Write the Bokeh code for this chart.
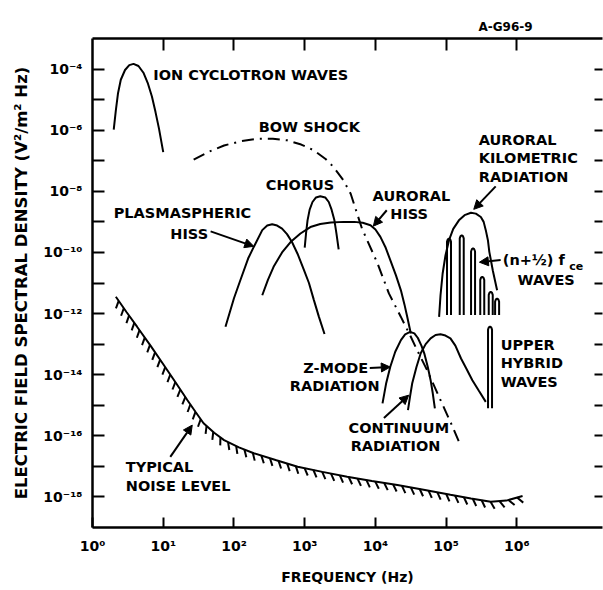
import numpy as np
from bokeh.plotting import figure
from bokeh.models import Range1d, LogAxis, FixedTicker, Arrow, NormalHead
from bokeh.core.properties import value
from bokeh.embed import file_html
from bokeh.resources import INLINE

# ---- values: log10(frequency / Hz), log10(density / V^2 m^-2 Hz^-1)
ion_logf = [0.30, 0.33, 0.36, 0.40, 0.46, 0.52, 0.58, 0.65, 0.72, 0.78, 0.84, 0.89, 0.94, 1.00]
ion_loge = [-5.98, -5.35, -4.80, -4.35, -4.03, -3.87, -3.83, -3.90, -4.12, -4.45, -4.90, -5.40, -5.95, -6.72]

bow_logf = [1.43, 1.65, 1.86, 2.10, 2.33, 2.55, 2.75, 2.95, 3.13, 3.30, 3.41, 3.55, 3.65, 3.81,
            4.03, 4.19, 4.36, 4.50, 4.59, 4.73, 4.92, 5.09, 5.20]
bow_loge = [-6.96, -6.70, -6.50, -6.36, -6.28, -6.28, -6.33, -6.47, -6.66, -6.95, -7.21, -7.65, -8.08, -9.22,
            -10.36, -11.34, -12.11, -12.76, -13.20, -13.85, -14.83, -15.70, -16.30]

phiss_logf = [1.88, 2.00, 2.09, 2.20, 2.28, 2.40, 2.47, 2.54, 2.61, 2.68, 2.75, 2.82, 2.90, 2.99, 3.06, 3.13, 3.20, 3.28]
phiss_loge = [-12.43, -11.50, -10.91, -10.20, -9.82, -9.27, -9.12, -9.08, -9.12, -9.22, -9.40, -9.66, -10.05, -10.58,
              -11.00, -11.56, -12.10, -12.67]

ahiss_logf = [2.40, 2.48, 2.56, 2.68, 2.80, 2.94, 3.08, 3.22, 3.37, 3.55, 3.70, 3.82, 3.93, 4.00, 4.07, 4.14,
              4.21, 4.29, 4.36, 4.41, 4.45, 4.50]
ahiss_loge = [-11.40, -10.90, -10.47, -10.00, -9.66, -9.38, -9.17, -9.07, -9.02, -9.00, -9.00, -9.03, -9.11, -9.25,
              -9.49, -9.82, -10.25, -10.75, -11.24, -11.70, -12.11, -12.65]

chorus_logf = [3.00, 3.02, 3.04, 3.07, 3.11, 3.16, 3.22, 3.29, 3.34, 3.38, 3.42, 3.45, 3.48]
chorus_loge = [-9.84, -9.35, -8.95, -8.60, -8.35, -8.20, -8.16, -8.20, -8.35, -8.60, -8.95, -9.40, -9.90]

zmode_logf = [4.10, 4.15, 4.21, 4.28, 4.36, 4.42, 4.49, 4.55, 4.60, 4.65, 4.69, 4.74, 4.78, 4.81, 4.84]
zmode_loge = [-14.94, -14.30, -13.74, -13.25, -12.87, -12.68, -12.60, -12.65, -12.80, -13.05, -13.30, -13.75,
              -14.18, -14.60, -15.10]

cont_logf = [4.46, 4.49, 4.52, 4.58, 4.64, 4.71, 4.78, 4.85, 4.92, 4.99, 5.06, 5.13, 5.21, 5.29, 5.37, 5.46, 5.56]
cont_loge = [-15.16, -14.70, -14.28, -13.75, -13.30, -13.00, -12.81, -12.70, -12.68, -12.72, -12.81, -13.05,
             -13.47, -13.82, -14.18, -14.52, -14.89]

akr_logf = [4.90, 4.92, 4.95, 4.99, 5.04, 5.10, 5.18, 5.26, 5.35, 5.42, 5.49, 5.53, 5.56, 5.59, 5.61, 5.66, 5.72]
akr_loge = [-12.11, -11.40, -10.69, -10.10, -9.60, -9.23, -8.95, -8.78, -8.70, -8.73, -8.84, -9.00, -9.27,
            -9.60, -9.98, -10.60, -11.24]

# (n + 1/2) f_ce harmonic bands: centre, top, common bottom
nhalf_logf = [5.04, 5.22, 5.38, 5.51, 5.63, 5.72]
nhalf_top = [-9.55, -9.44, -9.87, -10.80, -11.29, -11.51]
nhalf_bottom = -12.05

# upper hybrid band
uh_logf = 5.62
uh_top = -12.43
uh_bottom = -15.10

noise_logf = [0.33, 0.48, 0.63, 0.82, 1.01, 1.18, 1.34, 1.46, 1.57, 1.72, 1.86, 2.07, 2.28, 2.60, 2.90,
              3.25, 3.60, 3.95, 4.31, 4.70, 5.06, 5.35, 5.63, 5.85, 6.08]
noise_loge = [-11.45, -11.95, -12.43, -13.05, -13.69, -14.27, -14.83, -15.23, -15.59, -15.90, -16.14, -16.38,
              -16.57, -16.80, -17.01, -17.18, -17.34, -17.48, -17.61, -17.77, -17.93, -18.05, -18.16, -18.12, -17.97]

x_tick_exp = [0, 1, 2, 3, 4, 5, 6]
y_tick_exp = list(range(-4, -19, -1))
SUP = str.maketrans("0123456789-", "⁰¹²³⁴⁵⁶⁷⁸⁹⁻")

# ---- layout
X_LO, X_HI = 0.0, 7.21
Y_LO, Y_HI = -19.0, -3.0
W, H = 603, 590
BL, BR, BT, BB = 92, 1, 38, 63
FW, FH = W - BL - BR, H - BT - BB
FONT = value("DejaVu Sans")

p = figure(width=W, height=H, x_axis_type="log", y_axis_type="log",
           x_range=Range1d(10 ** X_LO, 10 ** X_HI), y_range=Range1d(10 ** Y_LO, 10 ** Y_HI),
           output_backend="svg", toolbar_location=None,
           min_border_left=BL, min_border_right=BR, min_border_top=BT, min_border_bottom=BB)
p.grid.visible = False
p.outline_line_color = None
p.background_fill_color = "white"
p.border_fill_color = "white"

p.title.text = "A-G96-9"
p.title.align = "left"
p.title.offset = 386
p.title.text_font = "DejaVu Sans"
p.title.text_font_style = "bold"
p.title.text_font_size = "12px"
p.title.text_color = "black"

def pw(a):
    return [10 ** v for v in a]

def style_axis(ax, tick_in):
    ax.axis_line_width = 2.5
    ax.axis_line_color = "black"
    ax.major_tick_in = tick_in
    ax.major_tick_out = 0
    ax.major_tick_line_width = 2
    ax.minor_tick_line_color = None
    ax.major_label_text_font = "DejaVu Sans"
    ax.major_label_text_font_style = "bold"
    ax.major_label_text_font_size = "14px"
    ax.major_label_text_color = "black"
    ax.axis_label_text_font = "DejaVu Sans"
    ax.axis_label_text_font_style = "bold"
    ax.axis_label_text_font_size = "14px"
    ax.axis_label_text_color = "black"

# bottom axis
xb = p.xaxis[0]
style_axis(xb, 10)
xb.ticker = FixedTicker(ticks=[10 ** e for e in x_tick_exp])
xb.major_label_overrides = {10 ** e: "10" + str(e).translate(SUP) for e in x_tick_exp}
xb.major_label_standoff = 10
xb.axis_label = "FREQUENCY (Hz)"
xb.axis_label_standoff = 12

# left axis
yl = p.yaxis[0]
style_axis(yl, 12)
yl.ticker = FixedTicker(ticks=[10.0 ** e for e in y_tick_exp])
yl.major_label_overrides = {10.0 ** e: ("10" + str(e).translate(SUP) if e % 2 == 0 else "") for e in y_tick_exp}
yl.major_label_standoff = 10
yl.axis_label = "ELECTRIC FIELD SPECTRAL DENSITY (V²/m² Hz)"
yl.axis_label_text_font_size = "16.5px"
yl.axis_label_standoff = 9

# top axis (ticks only)
xt = LogAxis(ticker=FixedTicker(ticks=[10 ** e for e in x_tick_exp[1:]]))
style_axis(xt, 12)
xt.major_label_overrides = {10 ** e: "" for e in x_tick_exp}
xt.major_label_standoff = 0
xt.major_label_text_font_size = "0px"
p.add_layout(xt, "above")

# right axis (ticks only, no line)
yr = LogAxis(ticker=FixedTicker(ticks=[10.0 ** e for e in y_tick_exp]))
style_axis(yr, 8)
yr.axis_line_color = None
yr.major_label_overrides = {10.0 ** e: "" for e in y_tick_exp}
yr.major_label_standoff = 0
yr.major_label_text_font_size = "0px"
p.add_layout(yr, "right")

LW = 2
p.line(pw(ion_logf), pw(ion_loge), line_width=LW, color="black")
p.line(pw(bow_logf), pw(bow_loge), line_width=LW, color="black", line_dash="12 6 2 6")
p.line(pw(phiss_logf), pw(phiss_loge), line_width=LW, color="black")
p.line(pw(ahiss_logf), pw(ahiss_loge), line_width=LW, color="black")
p.line(pw(chorus_logf), pw(chorus_loge), line_width=LW, color="black")
p.line(pw(zmode_logf), pw(zmode_loge), line_width=LW, color="black")
p.line(pw(cont_logf), pw(cont_loge), line_width=LW, color="black")
p.line(pw(akr_logf), pw(akr_loge), line_width=LW, color="black")
p.line(pw(noise_logf), pw(noise_loge), line_width=LW, color="black")

# narrow bands drawn as inverted U outlines
SX = FW / (X_HI - X_LO)
SY = FH / (Y_HI - Y_LO)
hw = 2.0 / SX
cap = 3.0 / SY

def band(c, top, bot):
    xs = [c - hw, c - hw, c - 0.6 * hw, c, c + 0.6 * hw, c + hw, c + hw]
    ys = [bot, top - cap, top - 0.25 * cap, top, top - 0.25 * cap, top - cap, bot]
    return pw(xs), pw(ys)

bx, by = [], []
for c, t in zip(nhalf_logf, nhalf_top):
    a, b = band(c, t, nhalf_bottom)
    bx.append(a); by.append(b)
a, b = band(uh_logf, uh_top, uh_bottom)
bx.append(a); by.append(b)
p.multi_line(bx, by, line_width=LW, color="black")

# hatching under the noise level curve
px = np.array(noise_logf) * SX
py = np.array(noise_loge) * SY
seg = np.hypot(np.diff(px), np.diff(py))
s = np.concatenate([[0], np.cumsum(seg)])
ss = np.arange(5, s[-1] - 2, 9.0)
hx = np.interp(ss, s, px)
hy = np.interp(ss, s, py)
gx = np.interp(ss + 1, s, px) - np.interp(ss - 1, s, px)
gy = np.interp(ss + 1, s, py) - np.interp(ss - 1, s, py)
gn = np.hypot(gx, gy)
tx, ty = gx / gn, gy / gn
nx, ny = ty, -tx  # normal pointing below the curve
ang = np.deg2rad(35)
dx = nx * np.cos(ang) - ny * np.sin(ang)
dy = nx * np.sin(ang) + ny * np.cos(ang)
L = 8.0
hxs = [[10 ** (x0 / SX), 10 ** ((x0 + L * ddx) / SX)] for x0, ddx in zip(hx, dx)]
hys = [[10 ** (y0 / SY), 10 ** ((y0 + L * ddy) / SY)] for y0, ddy in zip(hy, dy)]
p.multi_line(hxs, hys, line_width=2, color="black")

# labels
labels = [
    (0.86, -4.18, "ION CYCLOTRON WAVES"),
    (2.35, -5.91, "BOW SHOCK"),
    (2.45, -7.80, "CHORUS"),
    (0.30, -8.72, "PLASMASPHERIC"),
    (1.10, -9.41, "HISS"),
    (3.96, -8.16, "AURORAL"),
    (4.21, -8.75, "HISS"),
    (5.46, -6.33, "AURORAL"),
    (5.46, -6.92, "KILOMETRIC"),
    (5.46, -7.54, "RADIATION"),
    (5.80, -10.25, "(n+½) f"),
    (6.01, -10.91, "WAVES"),
    (5.77, -13.03, "UPPER"),
    (5.77, -13.62, "HYBRID"),
    (5.77, -14.24, "WAVES"),
    (2.98, -13.78, "Z-MODE"),
    (2.79, -14.37, "RADIATION"),
    (3.62, -15.75, "CONTINUUM"),
    (3.65, -16.33, "RADIATION"),
    (0.47, -17.02, "TYPICAL"),
    (0.47, -17.64, "NOISE LEVEL"),
]
p.text(x=[10 ** l[0] for l in labels], y=[10 ** l[1] for l in labels], text=[l[2] for l in labels],
       text_font=FONT, text_font_style="bold", text_font_size="14.5px", text_color="black",
       text_align="left", text_baseline="middle")
p.text(x=[10 ** 6.74], y=[10 ** -10.45], text=["ce"], text_font=FONT, text_font_style="bold",
       text_font_size="11px", text_align="left", text_baseline="middle")

arrows = [
    (1.67, -9.31, 2.28, -9.80),
    (4.16, -8.62, 3.97, -9.14),
    (5.70, -7.84, 5.39, -8.59),
    (5.77, -10.25, 5.47, -10.32),
    (3.92, -13.78, 4.21, -13.75),
    (4.12, -15.42, 4.47, -14.67),
    (1.10, -16.69, 1.41, -15.65),
]
for x0, y0, x1, y1 in arrows:
    p.add_layout(Arrow(end=NormalHead(size=9, fill_color="black", line_color="black"),
                       x_start=10 ** x0, y_start=10 ** y0, x_end=10 ** x1, y_end=10 ** y1,
                       line_width=2, line_color="black"))

open("out.html", "w").write(file_html(p, INLINE))
